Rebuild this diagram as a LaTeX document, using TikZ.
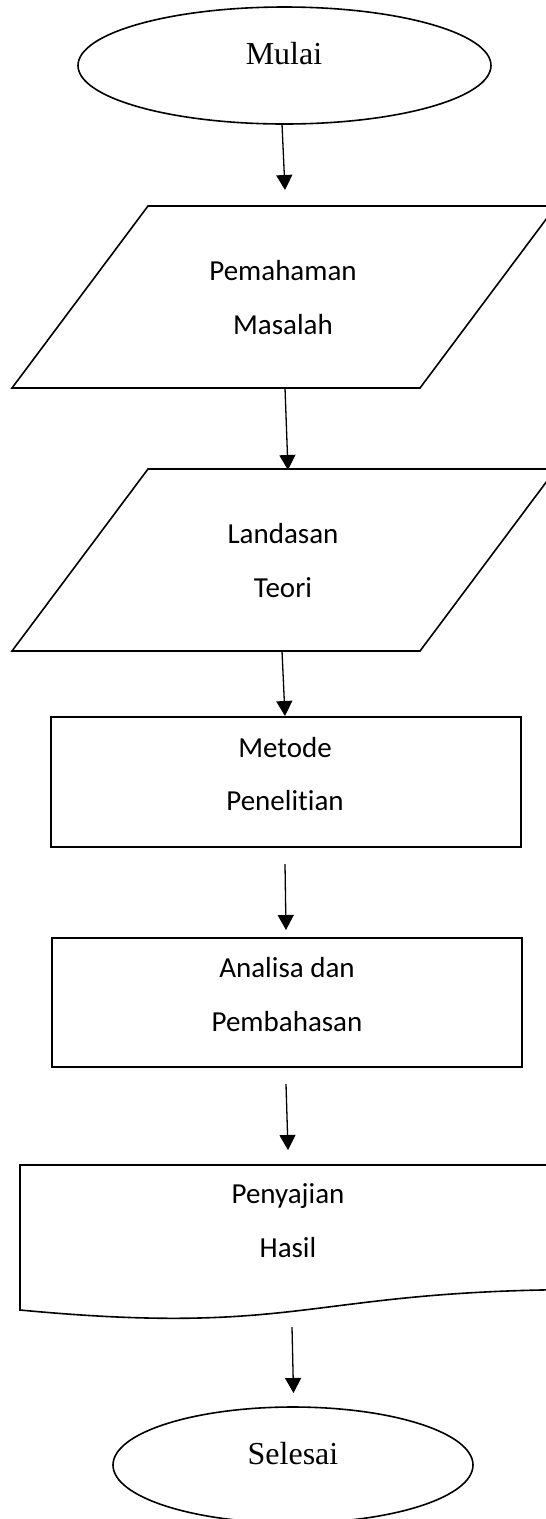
\documentclass[tikz,border=0pt]{standalone}
\usepackage{fontspec}
\setmainfont{Liberation Serif}
\newfontfamily\calibri[Ligatures=NoCommon]{Carlito}
\usetikzlibrary{arrows.meta,shapes.geometric}
\begin{document}
\begin{tikzpicture}[x=1pt,y=-1pt,
  shapeline/.style={draw=black,line width=1.6pt},
  flowarrow/.style={draw=black,line width=1.3pt,-{Triangle[length=15pt,width=16pt]}},
  sertext/.style={font=\fontsize{32}{38}\selectfont,anchor=base,inner sep=0pt},
  caltext/.style={font=\calibri\fontsize{29}{35}\selectfont,anchor=base,inner sep=0pt},
  ovalbox/.style={shapeline,ellipse,inner sep=0pt}]
\clip (0,0) rectangle (546,1519);
\fill[white] (0,0) rectangle (546,1519);

% Mulai
\node[ovalbox,minimum width=413pt,minimum height=117pt] (mulai) at (284.5,65.5) {};
\node[sertext] (mulaitxt) at (284,64) {Mulai};

% Pemahaman Masalah
\draw[shapeline] (148,206) -- (556,206) -- (420,388) -- (12,388) -- cycle;
\node[caltext] (pm1) at (283,280) {Pemahaman};
\node[caltext] (pm2) at (283,334) {Masalah};

% Landasan Teori
\draw[shapeline] (148,469) -- (556,469) -- (420,651) -- (12,651) -- cycle;
\node[caltext] (lt1) at (283,543) {Landasan};
\node[caltext] (lt2) at (283,597) {Teori};

% Metode Penelitian
\node[shapeline,rectangle,minimum width=470pt,minimum height=130pt,inner sep=0pt] (metode) at (286,782) {};
\node[caltext] (mp1) at (285,757) {Metode};
\node[caltext] (mp2) at (285,810) {Penelitian};

% Analisa dan Pembahasan
\node[shapeline,rectangle,minimum width=470pt,minimum height=129pt,inner sep=0pt] (analisa) at (287,1002.5) {};
\node[caltext] (ap1) at (287,977) {Analisa dan};
\node[caltext] (ap2) at (287,1031) {Pembahasan};

% Penyajian Hasil (document shape)
\draw[shapeline] (20,1165) -- (20,1310)
  .. controls (305,1337) and (305,1289.5) .. (590,1289.5)
  -- (590,1165) -- cycle;
\node[caltext] (ph1) at (288,1203) {Penyajian};
\node[caltext] (ph2) at (288,1257) {Hasil};

% Selesai
\node[ovalbox,minimum width=360pt,minimum height=116pt] (selesai) at (293,1465) {};
\node[sertext] (selesaitxt) at (293,1464) {Selesai};

% connector end points
\coordinate (a1s) at (282,124);   \coordinate (a1e) at (285,190);
\coordinate (a2s) at (285,388);   \coordinate (a2e) at (288,470);
\coordinate (a3s) at (282,651);   \coordinate (a3e) at (285,716);
\coordinate (a4s) at (285,864);   \coordinate (a4e) at (286,930);
\coordinate (a5s) at (286,1084);  \coordinate (a5e) at (288,1150);
\coordinate (a6s) at (292,1327);  \coordinate (a6e) at (293.5,1393);

\draw[flowarrow] (a1s) -- (a1e);
\draw[flowarrow] (a2s) -- (a2e);
\draw[flowarrow] (a3s) -- (a3e);
\draw[flowarrow] (a4s) -- (a4e);
\draw[flowarrow] (a5s) -- (a5e);
\draw[flowarrow] (a6s) -- (a6e);
\end{tikzpicture}
\end{document}
